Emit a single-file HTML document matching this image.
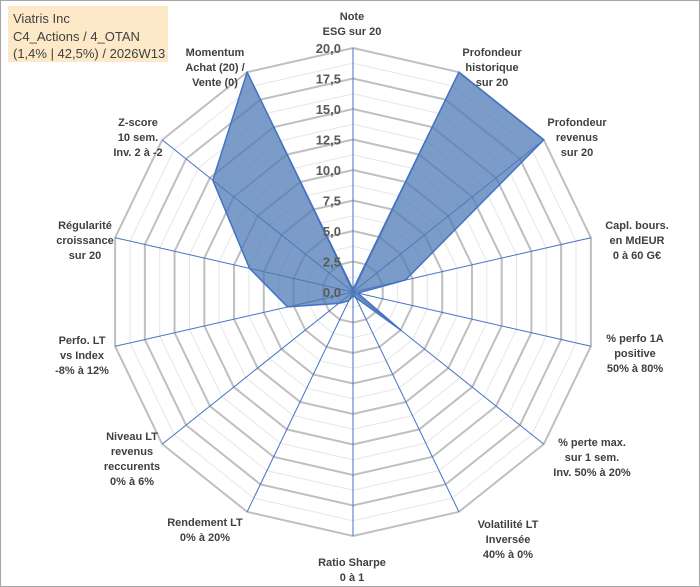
<!DOCTYPE html>
<html><head><meta charset="utf-8"><style>
body{margin:0;background:#fff}
svg{display:block;font-family:"Liberation Sans",sans-serif}
.lab{font-size:11px;font-weight:bold;fill:#404040;text-anchor:middle}
.tick{font-size:13px;font-weight:bold;fill:#595959;text-anchor:end}
</style></head><body>
<svg id="chart" width="700" height="587">
<rect x="0.5" y="0.5" width="699" height="586" fill="#fff" stroke="#a6a6a6"/>
<rect x="8" y="6" width="160" height="56" fill="#fde9c8"/>
<text x="13" y="23" font-size="13" fill="#404040">Viatris Inc</text>
<text x="13" y="41" font-size="13" fill="#404040">C4_Actions / 4_OTAN</text>
<text x="13" y="58" font-size="13" fill="#404040">(1,4% | 42,5%) / 2026W13</text>
<g id="grid"></g><g id="spokes"></g><g id="series"></g><g id="ticks"></g><g id="labels"></g>
</svg>
<script>
const categories = ["Note ESG","Profondeur historique","Profondeur revenus","Capl. bours.","% perfo 1A","% perte max.","Volatilité LT","Ratio Sharpe","Rendement LT","Niveau LT","Perfo. LT","Régularité","Z-score","Momentum"];
const values = [0.2, 20, 20, 4.4, 0.4, 5, 0.5, 0.3, 0.8, 1.5, 5.5, 8.7, 14.7, 20];
const tickLabels = ["0,0","2,5","5,0","7,5","10,0","12,5","15,0","17,5","20,0"];
const tickValues = [0,2.5,5,7.5,10,12.5,15,17.5,20];
const maxV = 20;
const labelLines = [
 ["Note","ESG sur 20"],["Profondeur","historique","sur 20"],["Profondeur","revenus","sur 20"],
 ["Capl. bours.","en MdEUR","0 à 60 G€"],["% perfo 1A","positive","50% à 80%"],
 ["% perte max.","sur 1 sem.","Inv. 50% à 20%"],["Volatilité LT","Inversée","40% à 0%"],
 ["Ratio Sharpe","0 à 1"],["Rendement LT","0% à 20%"],["Niveau LT","revenus","reccurents","0% à 6%"],
 ["Perfo. LT","vs Index","-8% à 12%"],["Régularité","croissance","sur 20"],
 ["Z-score","10 sem.","Inv. 2 à -2"],["Momentum","Achat (20) /","Vente (0)"]];
const labelPos = [[352,12],[492,48],[577,118],[637,221],[635,334],[592,438],[508,520],[352,558],[205,518],[132,432],[82,336],[85,221],[138,118],[215,48]];
const cx=353, cy=292, R=244, N=categories.length;
const ns="http://www.w3.org/2000/svg";
function pt(i,v){const a=2*Math.PI*i/N;const r=v/maxV*R;return [cx+r*Math.sin(a), cy-r*Math.cos(a)];}
function mk(tag,attrs,parent){const e=document.createElementNS(ns,tag);for(const k in attrs)e.setAttribute(k,attrs[k]);document.getElementById(parent).appendChild(e);return e;}
for(let k=1;k<=16;k++){
 const v=k*1.25;const pts=categories.map((c,i)=>pt(i,v).join(",")).join(" ");
 const major=k%2===0;
 const g=mk("polygon",{points:pts,fill:"none",stroke:major?"#bfbfbf":"#e6e6e6","stroke-width":major?2:1},"grid");
 
 
}
categories.forEach((c,i)=>{const p=pt(i,maxV);
 const l=mk("line",{x1:cx,y1:cy,x2:p[0],y2:p[1],stroke:"#4472c4","stroke-width":1},"spokes");
 
 
});
const poly=mk("polygon",{points:values.map((v,i)=>pt(i,v).join(",")).join(" "),fill:"#4f7bb5","fill-opacity":0.75,stroke:"#4472c4","stroke-width":1.5,"stroke-linejoin":"round"},"series");


tickValues.forEach((v,i)=>{const t=mk("text",{x:cx-12,y:cy-v/maxV*R+5,class:"tick"},"ticks");t.textContent=tickLabels[i];
 
 
});
labelLines.forEach((lines,i)=>{lines.forEach((s,j)=>{const t=mk("text",{x:labelPos[i][0],y:labelPos[i][1]+j*15+8,class:"lab"},"labels");t.textContent=s;
 
 
});});
</script>
</body></html>
